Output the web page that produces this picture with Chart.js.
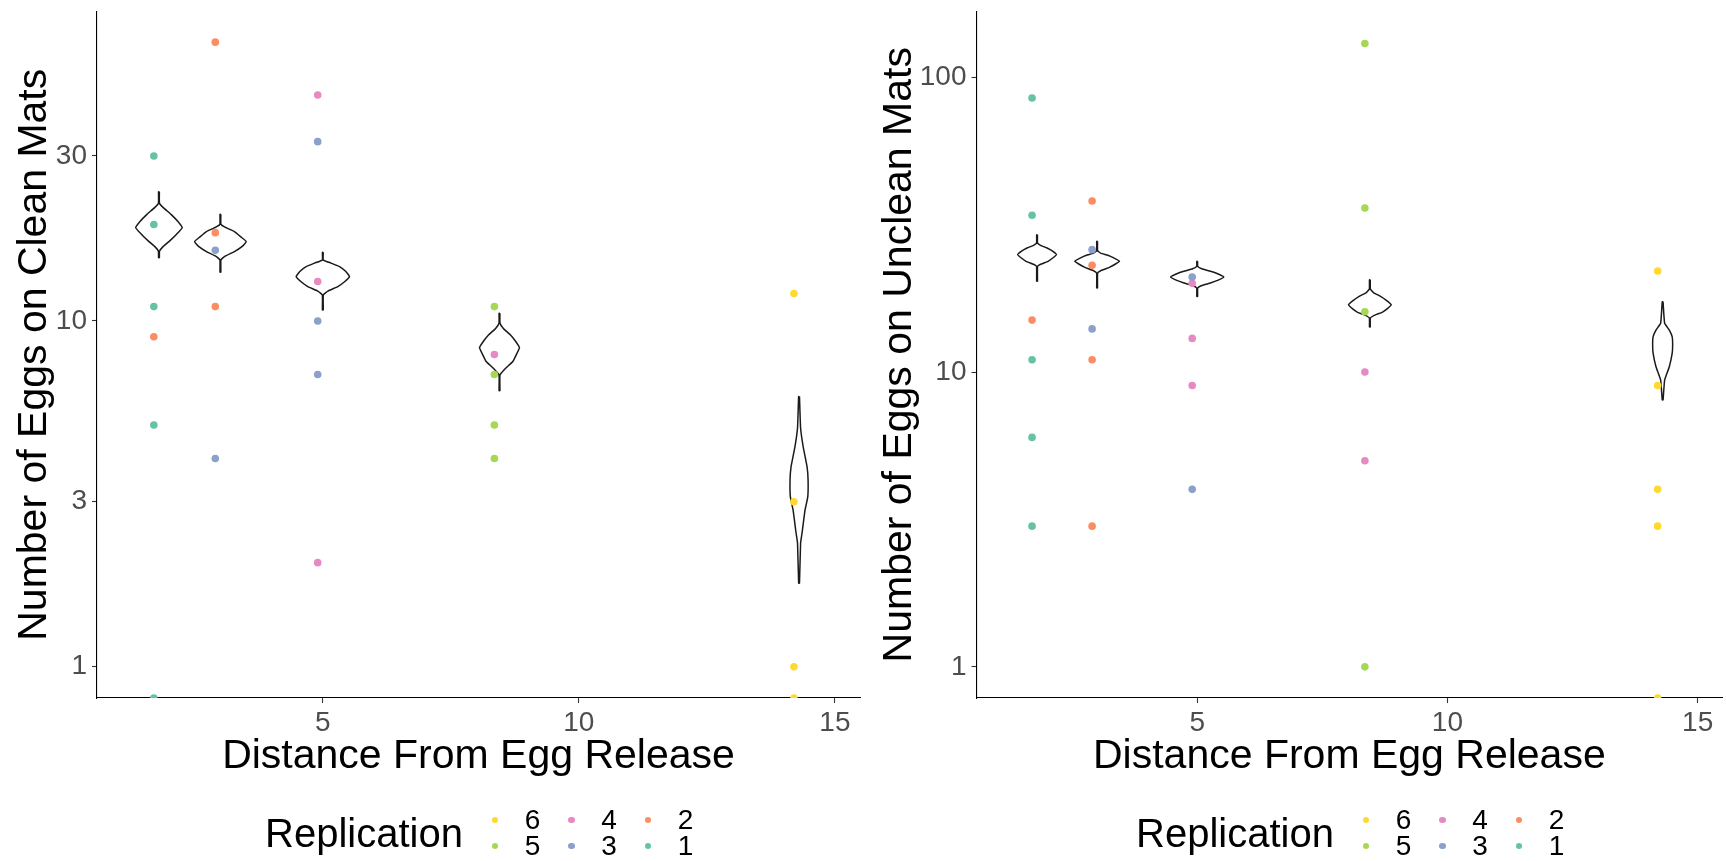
<!DOCTYPE html>
<html>
<head>
<meta charset="utf-8">
<script src="https://cdn.jsdelivr.net/npm/chart.js@4.4.0/dist/chart.umd.min.js"></script>
<style>
  html, body { margin: 0; padding: 0; background: #ffffff; width: 1726px; height: 861px; overflow: hidden; }
  .wrap { position: absolute; top: 0; height: 861px; }
  #wrapL { left: 0; width: 870px; }
  #wrapR { left: 870px; width: 856px; }
  .lg { position: absolute; font-family: 'Liberation Sans', Arial, sans-serif; color: #000; white-space: nowrap; }
  .dot { position: absolute; border-radius: 50%; }
</style>
</head>
<body>
<div class="wrap" id="wrapL"><canvas id="cL" width="870" height="861"></canvas></div>
<div class="wrap" id="wrapR"><canvas id="cR" width="856" height="861"></canvas></div>
<div id="legends"></div>
<script>
// ---------------- DATA ----------------
const replications = ['1', '2', '3', '4', '5', '6'];
const repColors = ['#66C2A5', '#FC8D62', '#8DA0CB', '#E78AC3', '#A6D854', '#FFD92F'];

const xTicks = [5, 10, 15];
const cleanTicks = [1, 3, 10, 30];
const uncleanTicks = [1, 10, 100];

// Clean mats: [distance, eggs]  (0 = no eggs, drawn on the axis floor)
const cleanRep1 = [[1.7, 30], [1.7, 19], [1.7, 11], [1.7, 5], [1.7, 0]];
const cleanRep2 = [[1.7, 9], [2.9, 64], [2.9, 18], [2.9, 11]];
const cleanRep3 = [[2.9, 16], [2.9, 4], [4.9, 33], [4.9, 10], [4.9, 7]];
const cleanRep4 = [[4.9, 45], [4.9, 13], [4.9, 2], [8.35, 8]];
const cleanRep5 = [[8.35, 11], [8.35, 7], [8.35, 5], [8.35, 4]];
const cleanRep6 = [[14.2, 12], [14.2, 3], [14.2, 1], [14.2, 0]];

// Unclean mats
const uncleanRep1 = [[1.7, 85], [1.7, 34], [1.7, 11], [1.7, 6], [1.7, 3]];
const uncleanRep2 = [[1.7, 15], [2.9, 38], [2.9, 23], [2.9, 11], [2.9, 3]];
const uncleanRep3 = [[2.9, 26], [2.9, 14], [4.9, 21], [4.9, 4]];
const uncleanRep4 = [[4.9, 20], [4.9, 13], [4.9, 9], [8.35, 10], [8.35, 5]];
const uncleanRep5 = [[8.35, 130], [8.35, 36], [8.35, 16], [8.35, 1]];
const uncleanRep6 = [[14.2, 22], [14.2, 9], [14.2, 4], [14.2, 3], [14.2, 0]];

// Violin centres (distance) and profiles: eggs (top -> bottom), half-width (distance units)
const violinX = [1.8, 3.0, 5.0, 8.45, 14.3];

const cleanViolinY = [
  [23.65, 21.9, 21.3, 20.3, 19.4, 18.62, 17.73, 16.96, 16.4, 15.9, 15.24],
  [20.35, 19.04, 18.7, 18.13, 17.5, 16.96, 16.4, 15.87, 15.35, 15.01, 13.83],
  [15.8, 15.01, 14.7, 14.36, 13.9, 13.43, 13.0, 12.57, 12.2, 11.89, 10.76],
  [10.53, 9.85, 9.5, 9.11, 8.75, 8.37, 8.0, 7.63, 7.3, 6.98, 6.28],
  [6.04, 4.9, 4.33, 3.79, 3.47, 3.1, 2.84, 2.44, 2.28, 1.744]
];
const cleanViolinW = [
  [0.008, 0.01, 0.08, 0.24, 0.37, 0.455, 0.33, 0.195, 0.08, 0.01, 0.008],
  [0.008, 0.01, 0.08, 0.273, 0.4, 0.504, 0.42, 0.273, 0.08, 0.01, 0.008],
  [0.008, 0.01, 0.16, 0.326, 0.45, 0.52, 0.43, 0.293, 0.1, 0.01, 0.008],
  [0.008, 0.01, 0.08, 0.215, 0.31, 0.39, 0.33, 0.26, 0.12, 0.01, 0.008],
  [0.008, 0.03, 0.08, 0.156, 0.176, 0.17, 0.117, 0.059, 0.03, 0.008]
];

const uncleanViolinY = [
  [29.2, 27.4, 26.9, 26.34, 25.7, 25.0, 24.4, 23.74, 23.2, 22.83, 20.31],
  [27.76, 25.79, 25.3, 24.88, 24.3, 23.74, 23.2, 22.65, 22.1, 21.67, 19.27],
  [23.74, 22.83, 22.4, 21.96, 21.5, 21.0, 20.5, 20.04, 19.65, 19.27, 18.06],
  [20.56, 19.12, 18.6, 18.06, 17.5, 16.92, 16.4, 15.94, 15.6, 15.25, 14.21],
  [17.32, 14.63, 13.88, 13.18, 12.35, 11.57, 10.42, 9.39, 8.04]
];
const uncleanViolinW = [
  [0.008, 0.01, 0.07, 0.2, 0.31, 0.388, 0.32, 0.22, 0.07, 0.01, 0.008],
  [0.008, 0.01, 0.07, 0.213, 0.35, 0.447, 0.36, 0.245, 0.08, 0.01, 0.008],
  [0.008, 0.01, 0.09, 0.264, 0.42, 0.53, 0.42, 0.264, 0.09, 0.01, 0.008],
  [0.008, 0.01, 0.07, 0.213, 0.33, 0.427, 0.35, 0.245, 0.1, 0.01, 0.008],
  [0.008, 0.04, 0.133, 0.19, 0.2, 0.19, 0.133, 0.04, 0.008]
];

// axis ranges
const xMin = 0.59, xMax = 15.49;
const cleanYMin = 0.812, cleanYMax = 78.5;
const uncleanYMin = 0.784, uncleanYMax = 167;

// ---------------- BUILD ----------------
Chart.defaults.font.family = "'Liberation Sans', Arial, sans-serif";

function pointSets(reps, yMin) {
  return reps.map((arr, i) => ({
    type: 'scatter',
    label: replications[i],
    data: arr.map(p => ({ x: p[0], y: p[1] > 0 ? p[1] : yMin })),
    backgroundColor: repColors[i],
    borderWidth: 0,
    pointRadius: 3.8,
    pointHoverRadius: 3.8,
    showLine: false,
    order: 1
  }));
}

function violinSets(ys, ws) {
  return ys.map((yv, k) => {
    const cx = violinX[k];
    const pts = [];
    for (let i = 0; i < yv.length; i++) pts.push({ x: cx + ws[k][i], y: yv[i] });
    for (let i = yv.length - 1; i >= 0; i--) pts.push({ x: cx - ws[k][i], y: yv[i] });
    pts.push(pts[0]);
    return {
      type: 'scatter',
      label: 'violin' + k,
      data: pts,
      showLine: true,
      borderColor: '#1a1a1a',
      borderWidth: 1.5,
      pointRadius: 0,
      pointHoverRadius: 0,
      fill: false,
      tension: 0.12,
      order: 2
    };
  });
}

function axisCommon() {
  return {
    grid: { display: true, drawOnChartArea: false, drawTicks: true, tickLength: 5, tickColor: '#333333', tickWidth: 1.1 },
    border: { display: true, color: '#000000', width: 1.1 }
  };
}

function makeChart(id, reps, vy, vw, yMin, yMax, yTicks, yTitle, yWidth, yTitlePad, rightPad) {
  const datasets = pointSets(reps, yMin).concat(violinSets(vy, vw));
  return new Chart(document.getElementById(id), {
    type: 'scatter',
    data: { datasets },
    options: {
      responsive: false,
      animation: false,
      events: [],
      layout: { padding: { left: 0, right: rightPad, top: 11.5, bottom: 0 } },
      plugins: { legend: { display: false }, tooltip: { enabled: false } },
      scales: {
        x: Object.assign(axisCommon(), {
          type: 'linear', min: xMin, max: xMax,
          afterBuildTicks: s => { s.ticks = xTicks.map(v => ({ value: v })); },
          afterFit: s => { s.height = 163; s.paddingLeft = 0; s.paddingRight = 0; },
          ticks: { font: { size: 28 }, color: '#4D4D4D', padding: 3, autoSkip: false, maxRotation: 0, callback: v => String(v) },
          title: { display: true, text: 'Distance From Egg Release', font: { size: 41 }, color: '#000000', padding: { top: 0, bottom: 80 } }
        }),
        y: Object.assign(axisCommon(), {
          type: 'logarithmic', min: yMin, max: yMax,
          afterBuildTicks: s => { s.ticks = yTicks.map(v => ({ value: v })); },
          afterFit: s => { s.width = yWidth; s.paddingTop = 0; s.paddingBottom = 0; },
          ticks: { font: { size: 28 }, color: '#4D4D4D', padding: 5, autoSkip: false, callback: v => String(v) },
          title: { display: true, text: yTitle, font: { size: 41 }, color: '#000000', padding: { top: yTitlePad, bottom: 0 } }
        })
      }
    }
  });
}

makeChart('cL',
  [cleanRep1, cleanRep2, cleanRep3, cleanRep4, cleanRep5, cleanRep6],
  cleanViolinY, cleanViolinW, cleanYMin, cleanYMax, cleanTicks,
  'Number of Eggs on Clean Mats', 97, 10.4, 10);

makeChart('cR',
  [uncleanRep1, uncleanRep2, uncleanRep3, uncleanRep4, uncleanRep5, uncleanRep6],
  uncleanViolinY, uncleanViolinW, uncleanYMin, uncleanYMax, uncleanTicks,
  'Number of Eggs on Unclean Mats', 106.5, 5.4, 0);

// ---------------- LEGENDS ----------------
const legendTitle = 'Replication';
const legendOrder = ['6', '5', '4', '3', '2', '1'];   // column-major, 2 rows
const legendOffsets = [0, 871];
const legendEl = document.getElementById('legends');
legendOffsets.forEach(off => {
  const t = document.createElement('div');
  t.className = 'lg';
  t.textContent = legendTitle;
  t.style.cssText += `left:${off + 265}px;top:${832 - 19.5}px;font-size:40px;line-height:40px;`;
  legendEl.appendChild(t);
  legendOrder.forEach((lab, i) => {
    const col = Math.floor(i / 2), row = i % 2;
    const cy = 820 + row * 26;
    const dx = off + 495 + col * 76.5;
    const idx = replications.indexOf(lab);
    const d = document.createElement('div');
    d.className = 'dot';
    d.style.cssText = `left:${dx - 3.3}px;top:${cy - 3.3}px;width:6.6px;height:6.6px;background:${repColors[idx]};`;
    legendEl.appendChild(d);
    const l = document.createElement('div');
    l.className = 'lg';
    l.textContent = lab;
    l.style.cssText += `left:${dx + 37.5 - 15}px;width:30px;text-align:center;top:${cy - 14}px;font-size:28px;line-height:28px;`;
    legendEl.appendChild(l);
  });
});
</script>
</body>
</html>
